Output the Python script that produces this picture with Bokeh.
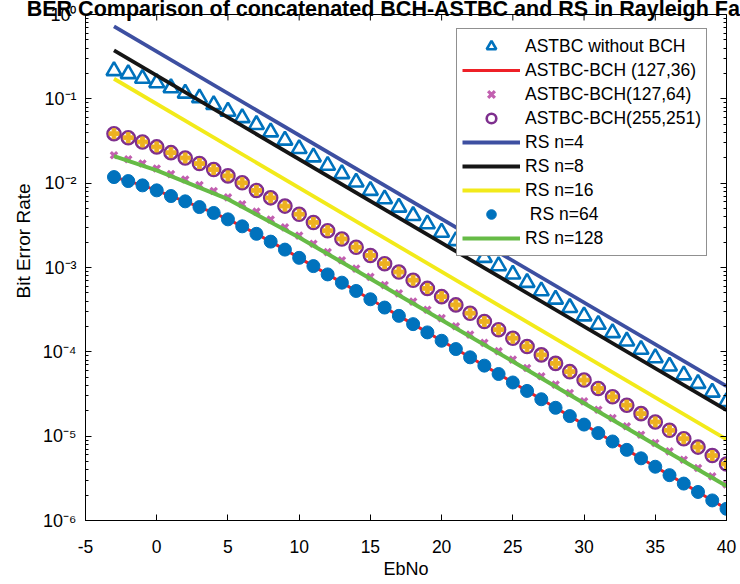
import math
from bokeh.plotting import figure
from bokeh.models import (FixedTicker, LogAxis, Legend, Title,
                          LegendItem, CustomJSTickFormatter, Range1d)
from bokeh.embed import file_html
from bokeh.resources import INLINE

# ---------------- data ----------------
ebno = list(range(-3, 41))

astbc_without_bch = [
    0.2153, 0.1979, 0.1743, 0.1546, 0.1347, 0.1163, 0.1024, 0.0851, 0.0710, 0.0596,
    0.0494, 0.0404, 0.0322, 0.02561, 0.02038, 0.01622, 0.01291, 0.01027, 0.00817, 0.00650,
    0.00518, 0.00412, 0.00328, 0.00261, 0.002076, 0.001652, 0.001314, 0.001046, 8.32e-4, 6.63e-4,
    5.27e-4, 4.20e-4, 3.34e-4, 2.66e-4, 2.11e-4, 1.68e-4, 1.339e-4, 1.066e-4, 8.48e-5, 6.75e-5,
    5.30e-5, 4.21e-5, 3.31e-5, 2.56e-5]

astbc_bch_127_36 = [
    0.01181, 0.01059, 0.009416, 0.008218, 0.007037, 0.006087, 0.005209, 0.004435, 0.003724, 0.003078,
    0.002508, 0.002027, 0.001630, 0.001302, 0.001039, 8.28e-4, 6.61e-4, 5.27e-4, 4.20e-4, 3.35e-4,
    2.67e-4, 2.13e-4, 1.70e-4, 1.353e-4, 1.079e-4, 8.61e-5, 6.86e-5, 5.46e-5, 4.33e-5, 3.44e-5,
    2.74e-5, 2.17e-5, 1.73e-5, 1.372e-5, 1.088e-5, 8.65e-6, 6.88e-6, 5.46e-6, 4.34e-6, 3.45e-6,
    2.74e-6, 2.18e-6, 1.73e-6, 1.376e-6]

astbc_bch_127_64 = [
    0.0214, 0.0192, 0.0171, 0.0149, 0.0128, 0.01106, 0.00948, 0.00808, 0.00679, 0.00562,
    0.00459, 0.00371, 0.00299, 0.00239, 0.00191, 0.00152, 0.001217, 9.71e-4, 7.75e-4, 6.19e-4,
    4.94e-4, 3.94e-4, 3.15e-4, 2.51e-4, 2.01e-4, 1.60e-4, 1.278e-4, 1.018e-4, 8.09e-5, 6.44e-5,
    5.14e-5, 4.08e-5, 3.25e-5, 2.59e-5, 2.06e-5, 1.64e-5, 1.31e-5, 1.04e-5, 8.3e-6, 6.61e-6,
    5.26e-6, 4.19e-6, 3.34e-6, 2.67e-6]

astbc_bch_255_251 = [
    0.0386, 0.0346, 0.0308, 0.0269, 0.0230, 0.0199, 0.0171, 0.0145, 0.0122, 0.0101,
    0.0082, 0.0067, 0.00535, 0.00428, 0.00342, 0.00273, 0.00218, 0.00174, 0.00139, 0.00111,
    8.85e-4, 7.07e-4, 5.65e-4, 4.51e-4, 3.60e-4, 2.87e-4, 2.29e-4, 1.83e-4, 1.45e-4, 1.155e-4,
    9.2e-5, 7.3e-5, 5.82e-5, 4.63e-5, 3.68e-5, 2.93e-5, 2.33e-5, 1.85e-5, 1.475e-5, 1.174e-5,
    9.32e-6, 7.42e-6, 5.89e-6, 4.68e-6]

rs64 = [
    0.01181, 0.01059, 0.009416, 0.008218, 0.007037, 0.006087, 0.005209, 0.004435, 0.003724, 0.003078,
    0.002508, 0.002027, 0.001630, 0.001302, 0.001039, 8.28e-4, 6.61e-4, 5.27e-4, 4.20e-4, 3.35e-4,
    2.67e-4, 2.13e-4, 1.70e-4, 1.353e-4, 1.079e-4, 8.61e-5, 6.86e-5, 5.46e-5, 4.33e-5, 3.44e-5,
    2.74e-5, 2.17e-5, 1.73e-5, 1.372e-5, 1.088e-5, 8.65e-6, 6.88e-6, 5.46e-6, 4.34e-6, 3.45e-6,
    2.74e-6, 2.18e-6, 1.73e-6, 1.376e-6]

rs_line_ebno = [-3, 40]
rs4 = [0.721, 3.91e-5]
rs8 = [0.3745, 2.03e-5]
rs16 = [0.173, 9.14e-6]

rs128_ebno = [-3, 0, 5, 10, 15, 20, 25, 30, 35, 40]
rs128 = [0.0209, 0.0142, 0.00645, 0.00227, 7.36e-4, 2.38e-4, 7.7e-5, 2.46e-5, 7.9e-6, 2.56e-6]

x_ticks = [-5, 0, 5, 10, 15, 20, 25, 30, 35, 40]
x_tick_labels = ["-5", "0", "5", "10", "15", "20", "25", "30", "35", "40"]
y_ticks = [1e-6, 1e-5, 1e-4, 1e-3, 1e-2, 1e-1, 1.0]
y_tick_exponents = ["-6", "-5", "-4", "-3", "-2", "-1", "0"]

title_text = "BER Comparison of concatenated BCH-ASTBC and RS in Rayleigh Fading"
x_label = "EbNo"
y_label = "Bit Error Rate"

# ---------------- styling ----------------
FONT = "Liberation Sans"
C_TRI = "#0072BD"
C_RED = "#EE2027"
C_X = "#C260B0"
C_CIRC = "#7E2F8E"
C_PLUS = "#EDB120"
C_RS4 = "#3D4FA1"
C_RS8 = "#151515"
C_RS16 = "#F2EA1A"
C_DOT = "#0072BD"
C_RS128 = "#66BB46"

W, H = 740, 584
L, R, T, B = 85, 14, 14, 64
TICK_IN = 6          # inward tick length, px
FRAME_H = 506.5      # plot frame height, px (for mirrored top ticks)

p = figure(width=W, height=H, y_axis_type="log",
           x_range=Range1d(-5, 40), y_range=Range1d(1e-6, 1.0),
           output_backend="svg", toolbar_location=None,
           min_border_left=L, min_border_right=R, min_border_top=T, min_border_bottom=B)
p.background_fill_color = "white"
p.border_fill_color = "white"
p.outline_line_color = "black"
p.outline_line_width = 1
p.xgrid.visible = False
p.ygrid.visible = False

minor = []
for d in y_ticks[:-1]:
    for m in range(2, 10):
        minor.append(d * m)

xt = FixedTicker(ticks=x_ticks, minor_ticks=[])
yt = FixedTicker(ticks=y_ticks, minor_ticks=minor)
blank = CustomJSTickFormatter(code="return '';")
yfmt = CustomJSTickFormatter(args=dict(yvals=y_ticks, ylabs=y_tick_exponents), code="""
const sup = {'-': '\\u207B', '0': '\\u2070', '1': '\\u00B9', '2': '\\u00B2', '3': '\\u00B3',
             '4': '\\u2074', '5': '\\u2075', '6': '\\u2076', '7': '\\u2077', '8': '\\u2078', '9': '\\u2079'};
let best = -1, bd = 1e9;
for (let i = 0; i < yvals.length; i++) {
  const d = Math.abs(Math.log10(tick) - Math.log10(yvals[i]));
  if (d < bd) { bd = d; best = i; }
}
if (best < 0 || bd > 1e-6) return '';
return '10' + ylabs[best].split('').map(c => sup[c]).join('');
""")

xa = p.xaxis[0]
xa.ticker = xt
xa.major_label_overrides = {t: s for t, s in zip(x_ticks, x_tick_labels)}
xa.major_label_text_font = FONT
xa.major_label_text_font_size = "17.5px"
xa.major_label_text_color = "black"
xa.major_label_standoff = 19
xa.axis_label = x_label
xa.axis_label_text_font = FONT
xa.axis_label_text_font_style = "normal"
xa.axis_label_text_font_size = "18px"
xa.axis_label_standoff = 3
xa.axis_label_text_color = "black"

ya = p.yaxis[0]
ya.ticker = yt
ya.formatter = yfmt
ya.major_label_text_font = FONT
ya.major_label_text_font_size = "18px"
ya.major_label_text_color = "black"
ya.major_label_standoff = 9

for ax in (xa, ya):
    ax.axis_line_color = "black"
    ax.major_tick_line_color = "black"
    ax.minor_tick_line_color = "black"
    ax.major_tick_in = TICK_IN
    ax.major_tick_out = 0
    ax.minor_tick_in = 3
    ax.minor_tick_out = 0

right_ax = LogAxis(ticker=FixedTicker(ticks=y_ticks, minor_ticks=minor), formatter=blank,
                   major_label_text_font_size="0px", major_label_standoff=0,
                   major_tick_in=TICK_IN, major_tick_out=0, minor_tick_in=3, minor_tick_out=0,
                   axis_line_color="black", major_tick_line_color="black",
                   minor_tick_line_color="black")
p.add_layout(right_ax, "right")

# mirrored x ticks along the top edge of the box (as MATLAB draws them)
top_tick_end = 10 ** (-TICK_IN * 6 / FRAME_H)
p.segment(x0=x_ticks, y0=[1.0] * len(x_ticks), x1=x_ticks, y1=[top_tick_end] * len(x_ticks),
          line_color="black", line_width=1)

# y axis label as a side-panel title
p.add_layout(Title(text=y_label, align="left", offset=222, standoff=12,
                   text_font=FONT, text_font_size="19px", text_font_style="normal",
                   text_color="black"), "left")

# main title: large and partly cut off at the top edge, as in the reference
try:
    main_title = Title(text=title_text, align="center", vertical_align="bottom", standoff=-13,
                       text_font=FONT, text_font_size="21.5px", text_font_style="bold",
                       text_color="black")
except Exception:
    main_title = Title(text=title_text, align="center", vertical_align="bottom", standoff=0,
                       text_font=FONT, text_font_size="12px", text_font_style="bold",
                       text_color="black")
p.add_layout(main_title, "above")

# ---------------- series ----------------
r_tri = p.scatter(ebno, astbc_without_bch, marker="triangle", size=15,
                  line_color=C_TRI, line_width=2.6, fill_color=None)
r_red = p.line(ebno, astbc_bch_127_36, line_color=C_RED, line_width=3)
r_x = p.scatter(ebno, astbc_bch_127_64, marker="x", size=9,
                line_color=C_X, line_width=3.2)
r_circ = p.scatter(ebno, astbc_bch_255_251, marker="circle", size=13,
                   line_color=C_CIRC, line_width=2.6, fill_color=None)
r_plus = p.scatter(ebno, astbc_bch_255_251, marker="plus", size=10,
                   line_color=C_PLUS, line_width=1, fill_color=C_PLUS)
r_rs4 = p.line(rs_line_ebno, rs4, line_color=C_RS4, line_width=3.8)
r_rs8 = p.line(rs_line_ebno, rs8, line_color=C_RS8, line_width=3.8)
r_rs16 = p.line(rs_line_ebno, rs16, line_color=C_RS16, line_width=3.8)
r_dot = p.scatter(ebno, rs64, marker="circle", size=13,
                  line_color=C_DOT, line_width=1, fill_color=C_DOT)
r_rs128 = p.line(rs128_ebno, rs128, line_color=C_RS128, line_width=4)

legend = Legend(items=[
    LegendItem(label="ASTBC without BCH", renderers=[r_tri]),
    LegendItem(label="ASTBC-BCH (127,36)", renderers=[r_red]),
    LegendItem(label="ASTBC-BCH(127,64)", renderers=[r_x]),
    LegendItem(label="ASTBC-BCH(255,251)", renderers=[r_circ]),
    LegendItem(label="RS n=4", renderers=[r_rs4]),
    LegendItem(label="RS n=8", renderers=[r_rs8]),
    LegendItem(label="RS n=16", renderers=[r_rs16]),
    LegendItem(label="\u00a0RS n=64", renderers=[r_dot]),
    LegendItem(label="RS n=128", renderers=[r_rs128]),
], location=(371, 264))
legend.label_text_font = FONT
legend.label_text_font_size = "17.5px"
legend.label_text_color = "black"
legend.label_height = 24
legend.glyph_height = 24
legend.glyph_width = 58
legend.label_standoff = 5
legend.padding = 5
legend.spacing = 0
legend.margin = 0
legend.border_line_color = "#222222"
legend.border_line_width = 1
legend.background_fill_color = "white"
legend.background_fill_alpha = 1.0
p.add_layout(legend, "center")

open("out.html", "w").write(file_html(p, INLINE))
